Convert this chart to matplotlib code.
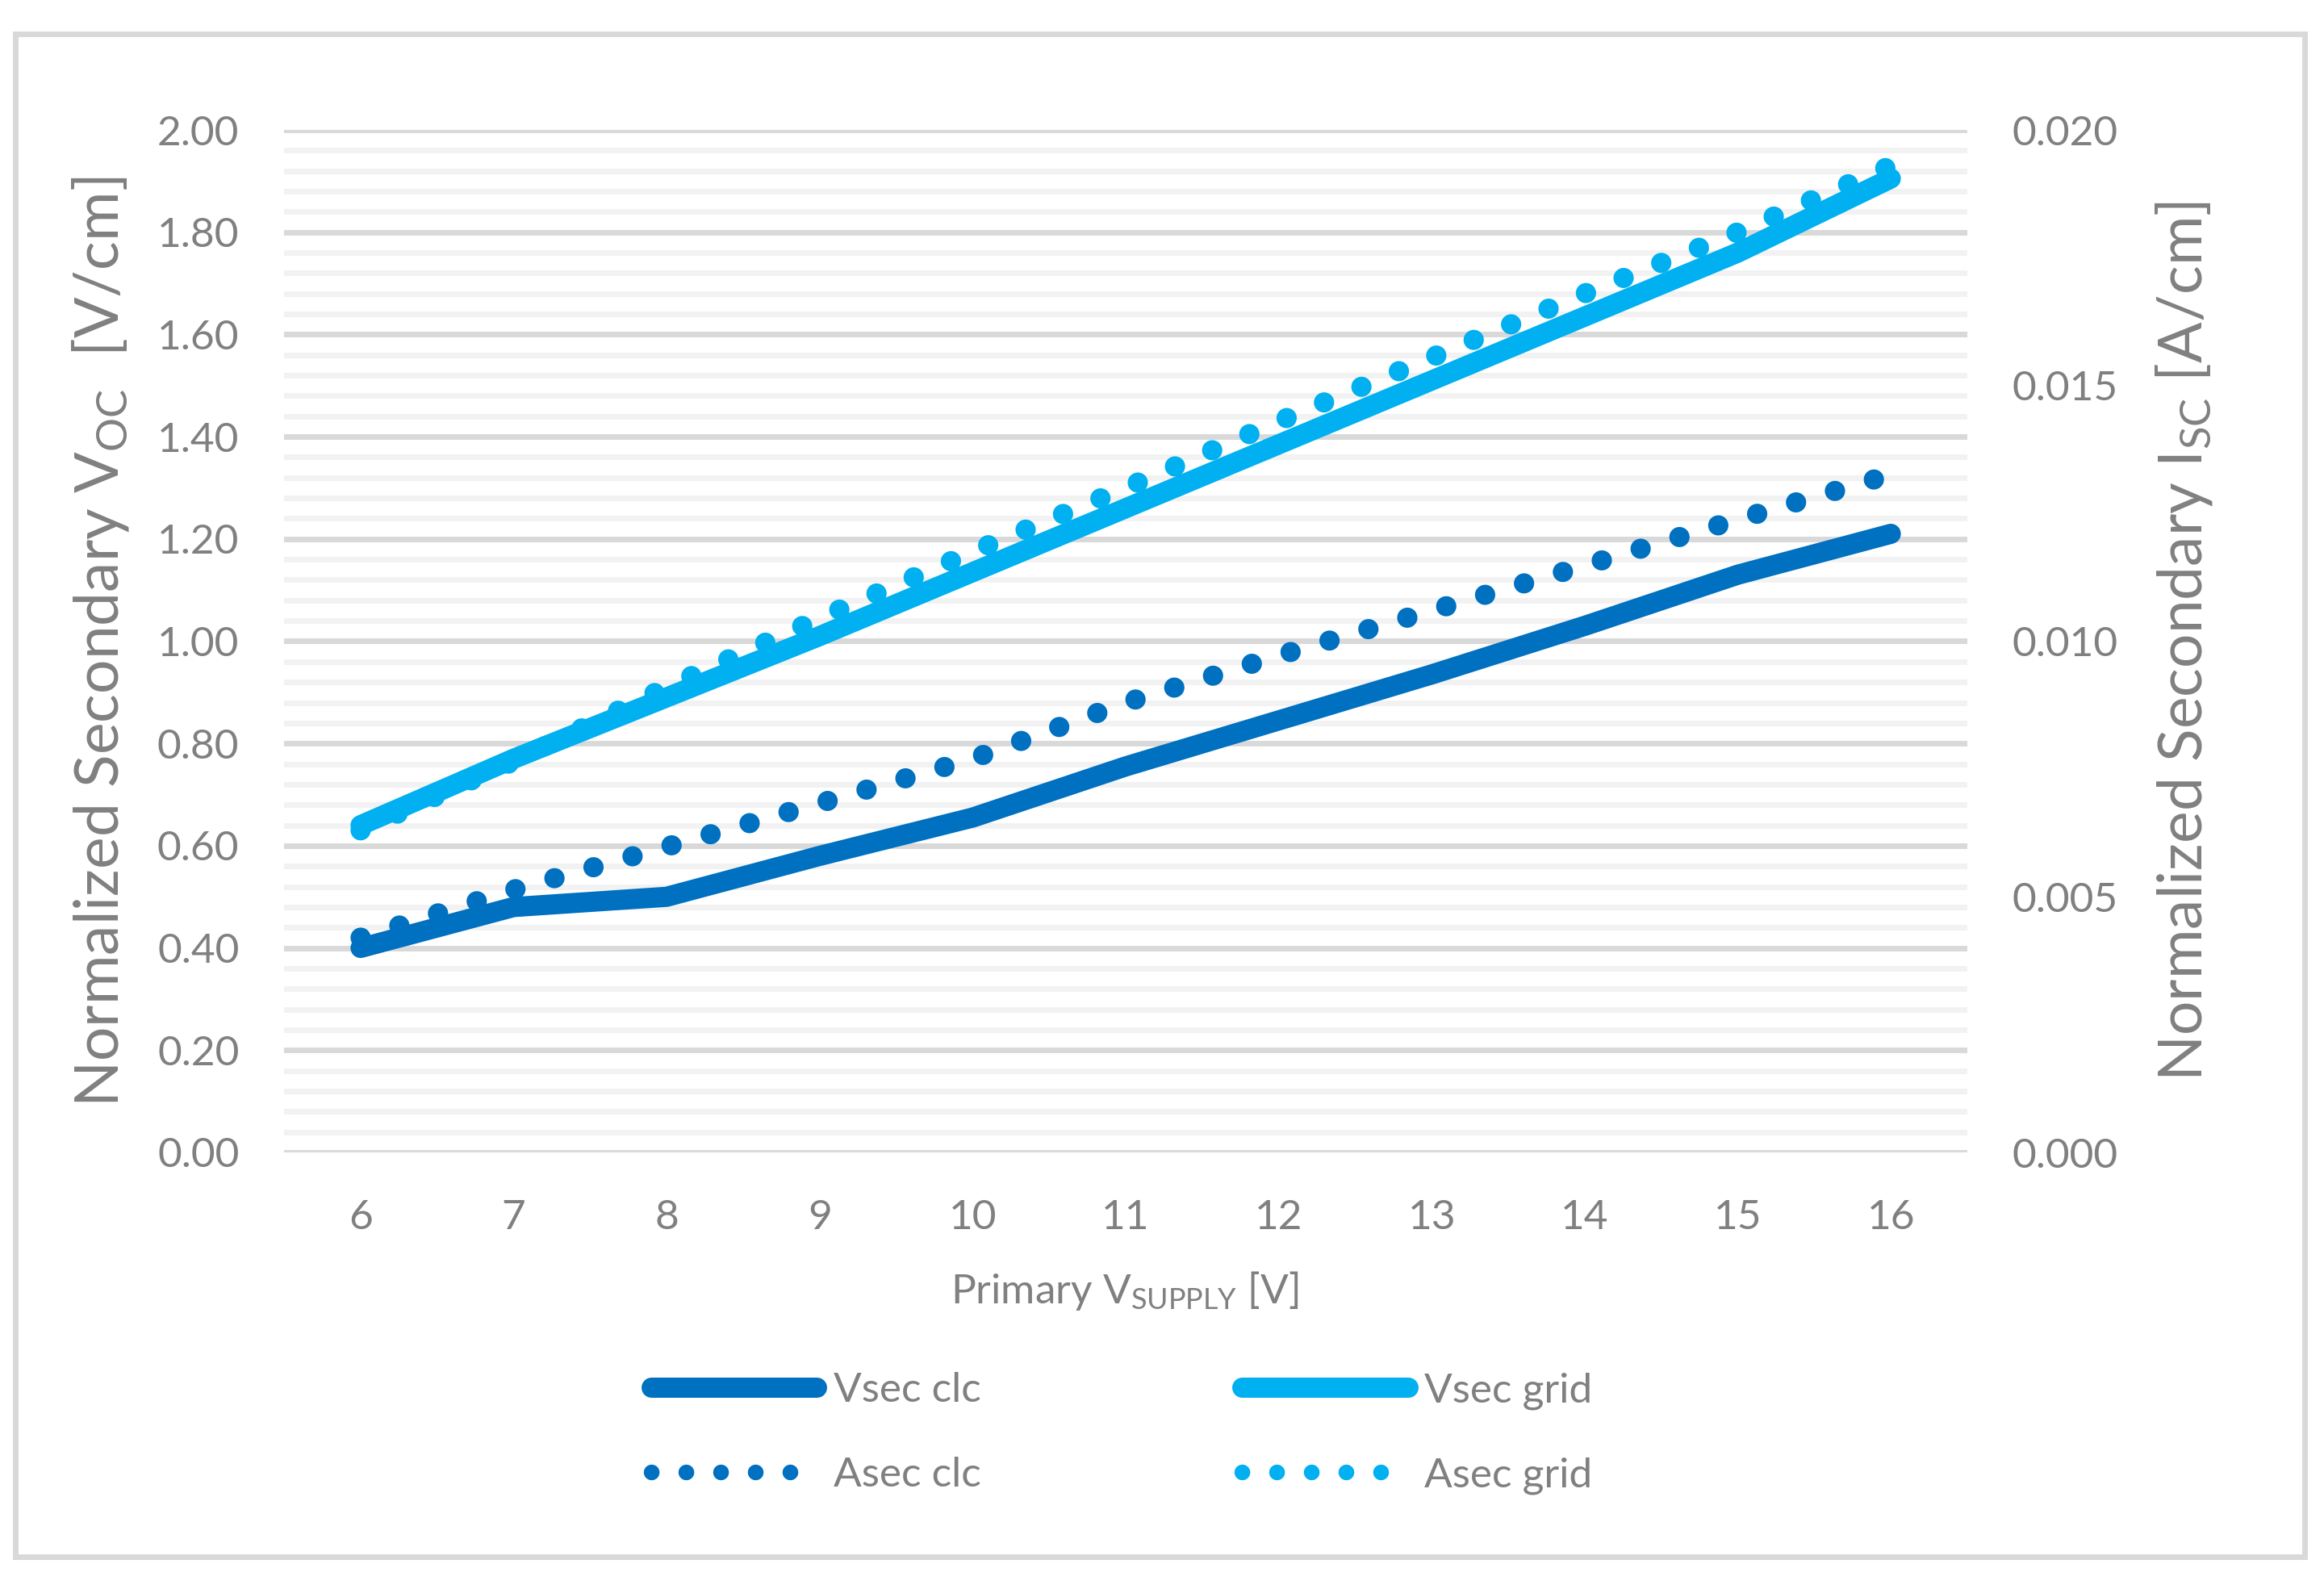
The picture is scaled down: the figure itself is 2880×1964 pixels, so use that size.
import matplotlib
matplotlib.use("Agg")
import matplotlib.pyplot as plt
from matplotlib.patches import Rectangle
from matplotlib.ticker import MultipleLocator, FormatStrFormatter
from matplotlib.lines import Line2D

plt.rcParams["font.family"] = ["Lato", "DejaVu Sans"]
plt.rcParams["mathtext.default"] = "regular"

# data
supply_v = [6, 7, 8, 9, 10, 11, 12, 13, 14, 15, 16]
vsec_clc = [0.40, 0.48, 0.50, 0.58, 0.655, 0.755, 0.845, 0.935, 1.03, 1.13, 1.21]
vsec_grid = [0.64, 0.77, 0.89, 1.01, 1.135, 1.26, 1.385, 1.51, 1.635, 1.76, 1.905]
asec_clc = [0.0042, 0.00514, 0.00598, 0.00683, 0.0077, 0.0088, 0.00972,
            0.0106, 0.01148, 0.01238, 0.01326]
asec_grid = [0.0063, 0.00765, 0.0091, 0.01045, 0.01175, 0.0130, 0.0143,
             0.01555, 0.0168, 0.0180, 0.0193]
labels = ["Vsec clc", "Vsec grid", "Asec clc", "Asec grid"]

DARK = "#0070C0"
LIGHT = "#00B0F0"
GREY = "#808080"
W, H = 2880, 1964
LW = 18
DOT = (0, (0.01, 2.0))

fig = plt.figure(figsize=(W / 100, H / 100), dpi=100)
fig.patches.append(Rectangle((19 / W, 1 - 1929 / H), (2856 - 19) / W, (1929 - 42) / H,
                             transform=fig.transFigure, fill=False,
                             edgecolor="#D9D9D9", lw=5))

ax = fig.add_axes([352 / W, 1 - 1428 / H, 2086 / W, 1267 / H])
ax2 = ax.twinx()

ax.plot(supply_v, vsec_clc, color=DARK, lw=LW, solid_capstyle="round",
        solid_joinstyle="round", zorder=3)
ax.plot(supply_v, vsec_grid, color=LIGHT, lw=LW, solid_capstyle="round",
        solid_joinstyle="round", zorder=3)
ax2.plot(supply_v, asec_clc, color=DARK, lw=LW, ls=DOT, dash_capstyle="round")
ax2.plot(supply_v, asec_grid, color=LIGHT, lw=LW, ls=DOT, dash_capstyle="round")

ax.set_xlim(5.5, 16.5)
ax.set_ylim(0, 2.0)
ax2.set_ylim(0, 0.020)
ax.set_xticks(supply_v)
ax.yaxis.set_major_locator(MultipleLocator(0.2))
ax.yaxis.set_minor_locator(MultipleLocator(0.04))
ax.yaxis.set_major_formatter(FormatStrFormatter("%.2f"))
ax2.yaxis.set_major_locator(MultipleLocator(0.005))
ax2.yaxis.set_major_formatter(FormatStrFormatter("%.3f"))

ax.grid(axis="y", which="minor", color="#F2F2F2", lw=5)
ax.grid(axis="y", which="major", color="#D9D9D9", lw=5)
ax.set_axisbelow(True)

for a in (ax, ax2):
    for s in a.spines.values():
        s.set_visible(False)
    a.tick_params(which="both", length=0, labelsize=37, labelcolor=GREY)
ax.tick_params(axis="y", pad=40)
ax.tick_params(axis="x", pad=42)
ax2.tick_params(axis="y", pad=40)

fig.text(125 / W, 1 - 795 / H, "Normalized Secondary V$_{OC}$  [V/cm]",
         rotation=90, ha="center", va="center", fontsize=54, color=GREY)
fig.text(2706 / W, 1 - 795 / H, "Normalized Secondary I$_{SC}$ [A/cm]",
         rotation=90, ha="center", va="center", fontsize=54, color=GREY)
fig.text(1394 / W, 1 - 1600 / H, "Primary V$_{SUPPLY}$ [V]",
         ha="center", va="center", fontsize=37, color=GREY)

handles = [
    Line2D([], [], color=DARK, lw=LW, solid_capstyle="round"),
    Line2D([], [], color=DARK, lw=14, ls=(0, (0.01, 2.2)), dash_capstyle="round"),
    Line2D([], [], color=LIGHT, lw=LW, solid_capstyle="round"),
    Line2D([], [], color=LIGHT, lw=14, ls=(0, (0.01, 2.2)), dash_capstyle="round"),
]
leg = fig.legend(handles, [labels[0], labels[2], labels[1], labels[3]], ncol=2,
                 loc="center", bbox_to_anchor=(1390 / W, 1 - 1776 / H),
                 frameon=False, fontsize=37, labelcolor=GREY,
                 handlelength=4.0, handletextpad=0.4, columnspacing=6.3,
                 labelspacing=1.13)

fig.savefig("out.png", dpi=100)
